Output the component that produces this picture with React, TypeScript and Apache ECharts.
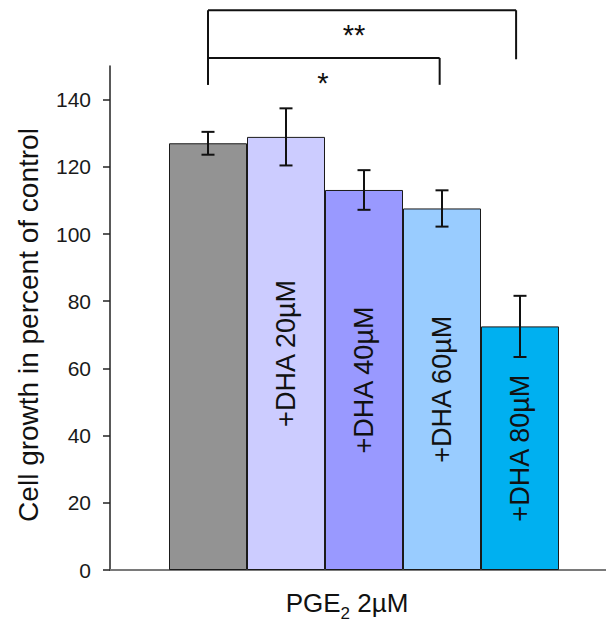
import React, { useEffect, useRef } from 'react';
import * as echarts from 'echarts';

// ---- data ----
const groupNames = ['PGE2', '+DHA 20µM', '+DHA 40µM', '+DHA 60µM', '+DHA 80µM'];
const barLabels = ['', '+DHA 20µM', '+DHA 40µM', '+DHA 60µM', '+DHA 80µM'];
const means = [127.0, 128.9, 113.1, 107.6, 72.5];
const errors = [3.4, 8.5, 5.9, 5.4, 9.1];
const barColors = ['#939393', '#ccccff', '#9999ff', '#99ccff', '#00b0f0'];
const yTicks = [0, 20, 40, 60, 80, 100, 120, 140];

// significance brackets (x in bar-index units, y in axis units)
const bracketStart = [0, 0];
const bracketEnd = [3.95, 2.97];
const bracketLevel = [166.6, 152.4];
const bracketLeftBottom = [144.4, 144.4];
const bracketRightBottom = [152.0, 144.4];
const bracketLabels = ['**', '*'];

const yTitle = 'Cell growth in percent of control';

const FONT = '"Liberation Sans", Arial, sans-serif';

export default function App() {
  const ref = useRef<HTMLDivElement>(null);

  useEffect(() => {
    document.body.style.margin = '0';
    const chart = echarts.init(ref.current as HTMLDivElement, null, { renderer: 'svg' });

    const barData = means.map((v, i) => ({
      value: [i, v],
      name: groupNames[i],
      itemStyle: { color: barColors[i] },
    }));

    const errData = means.map((v, i) => [i, v, errors[i]]);
    const bracketData = bracketStart.map((s, i) => [
      s,
      bracketEnd[i],
      bracketLevel[i],
      bracketLeftBottom[i],
      bracketRightBottom[i],
    ]);
    const labelDx = [-8, -1];

    const option: any = {
      animation: false,
      textStyle: { fontFamily: FONT },
      grid: { left: 110, right: 0, top: 66, bottom: 51, containLabel: false },
      xAxis: {
        type: 'value',
        min: (110 - 208) / 78,
        max: (606 - 208) / 78,
        axisLine: { show: true, onZero: true, lineStyle: { color: '#7a7a7a', width: 2 } },
        axisTick: { show: false },
        axisLabel: { show: false },
        splitLine: { show: false },
      },
      yAxis: {
        type: 'value',
        min: 0,
        max: 150,
        axisLine: { show: true, onZero: false, lineStyle: { color: '#222', width: 1.5 } },
        axisTick: {
          show: true,
          length: 7,
          customValues: yTicks,
          lineStyle: { color: '#222', width: 1.5 },
        },
        axisLabel: {
          customValues: yTicks,
          margin: 19,
          fontSize: 21,
          color: '#1a1a1a',
          fontFamily: FONT,
        },
        splitLine: { show: false },
      },
      series: [
        {
          type: 'bar',
          data: barData,
          barWidth: 78,
          itemStyle: { borderColor: '#1a1a1a', borderWidth: 1 },
          label: {
            show: true,
            position: 'inside',
            rotate: 90,
            fontSize: 27,
            color: '#111',
            fontFamily: FONT,
            formatter: (p: any) => barLabels[p.dataIndex],
          },
          z: 2,
        },
        {
          type: 'custom',
          data: errData,
          z: 5,
          clip: false,
          renderItem: (params: any, api: any) => {
            const x = api.value(0);
            const m = api.value(1);
            const e = api.value(2);
            const top = api.coord([x, m + e]);
            const bot = api.coord([x, m - e]);
            const hw = 6.5;
            const st = { stroke: '#111', lineWidth: 2 };
            return {
              type: 'group',
              children: [
                { type: 'line', shape: { x1: top[0], y1: top[1], x2: bot[0], y2: bot[1] }, style: st },
                { type: 'line', shape: { x1: top[0] - hw, y1: top[1], x2: top[0] + hw, y2: top[1] }, style: st },
                { type: 'line', shape: { x1: bot[0] - hw, y1: bot[1], x2: bot[0] + hw, y2: bot[1] }, style: st },
              ],
            };
          },
        },
        {
          type: 'custom',
          data: bracketData,
          z: 5,
          clip: false,
          renderItem: (params: any, api: any) => {
            const a = api.coord([api.value(0), api.value(2)]);
            const b = api.coord([api.value(1), api.value(2)]);
            const la = api.coord([api.value(0), api.value(3)]);
            const rb = api.coord([api.value(1), api.value(4)]);
            const st = { stroke: '#111', lineWidth: 2 };
            return {
              type: 'group',
              children: [
                { type: 'line', shape: { x1: a[0], y1: a[1], x2: b[0], y2: b[1] }, style: st },
                { type: 'line', shape: { x1: a[0], y1: a[1], x2: la[0], y2: la[1] }, style: st },
                { type: 'line', shape: { x1: b[0], y1: b[1], x2: rb[0], y2: rb[1] }, style: st },
                {
                  type: 'text',
                  x: (a[0] + b[0]) / 2 + labelDx[params.dataIndex],
                  y: a[1] + 25,
                  style: {
                    text: bracketLabels[params.dataIndex],
                    fontSize: 29,
                    fontFamily: FONT,
                    fill: '#111',
                    align: 'center',
                    verticalAlign: 'middle',
                  },
                },
              ],
            };
          },
        },
      ],
      graphic: [
        {
          type: 'text',
          x: 28,
          y: 325,
          rotation: Math.PI / 2,
          style: {
            text: yTitle,
            fontSize: 28,
            fontFamily: FONT,
            fill: '#111',
            align: 'center',
            verticalAlign: 'middle',
          },
        },
        {
          type: 'text',
          x: 347,
          y: 603,
          style: {
            text: '{m|PGE}{s|2}{m| 2µM}',
            align: 'center',
            verticalAlign: 'middle',
            fill: '#111',
            fontFamily: FONT,
            rich: {
              m: { fontSize: 26, fontFamily: FONT, fill: '#111', lineHeight: 30 },
              s: { fontSize: 17, fontFamily: FONT, fill: '#111', lineHeight: 30, padding: [20, 0, 0, 0] },
            },
          },
        },
      ],
    };

    chart.setOption(option);
    return () => chart.dispose();
  }, []);

  return <div ref={ref} style={{ width: 606, height: 621 }} />;
}
